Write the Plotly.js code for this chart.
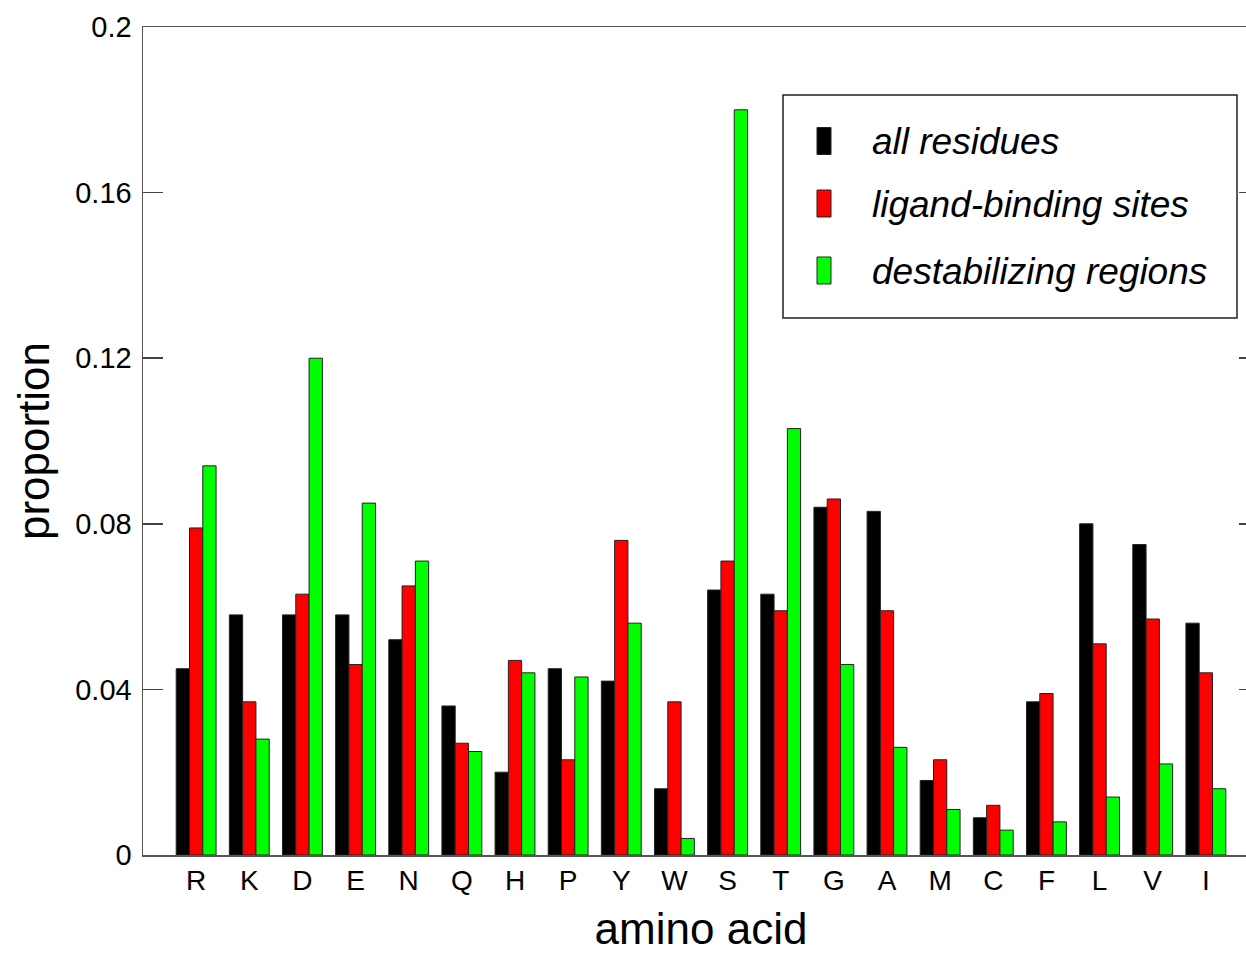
<!DOCTYPE html>
<html>
<head>
<meta charset="utf-8">
<script src="https://cdn.plot.ly/plotly-3.0.1.min.js"></script>
<style>
  html, body { margin: 0; padding: 0; background: #fff; overflow: hidden; width: 1246px; height: 953px; }
  #chart { width: 1259px; height: 953px; }
</style>
</head>
<body>
<div id="chart"></div>
<script>
const aminoAcids = ["R","K","D","E","N","Q","H","P","Y","W","S","T","G","A","M","C","F","L","V","I"];
const allResidues = [0.045,0.058,0.058,0.058,0.052,0.036,0.020,0.045,0.042,0.016,0.064,0.063,0.084,0.083,0.018,0.009,0.037,0.080,0.075,0.056];
const ligandBindingSites = [0.079,0.037,0.063,0.046,0.065,0.027,0.047,0.023,0.076,0.037,0.071,0.059,0.086,0.059,0.023,0.012,0.039,0.051,0.057,0.044];
const destabilizingRegions = [0.094,0.028,0.120,0.085,0.071,0.025,0.044,0.043,0.056,0.004,0.180,0.103,0.046,0.026,0.011,0.006,0.008,0.014,0.022,0.016];
const seriesNames = ["all residues","ligand-binding sites","destabilizing regions"];
const seriesColors = ["#000000","#ff0000","#00ff00"];
const yTickVals = [0, 0.04, 0.08, 0.12, 0.16, 0.2];
const yTickText = ["0", "0.04", "0.08", "0.12", "0.16", "0.2"];

const FONT = '"Liberation Sans", Arial, Helvetica, sans-serif';
const seriesValues = [allResidues, ligandBindingSites, destabilizingRegions];

const traces = seriesValues.map((vals, i) => ({
  type: 'bar',
  name: seriesNames[i],
  x: aminoAcids,
  y: vals,
  marker: { color: seriesColors[i], line: { color: '#222222', width: 1 } },
  showlegend: false,
  hoverinfo: 'x+y+name'
}));

// custom legend (tall narrow swatches like the original)
const W = 1259;
const L = 143, R = W, T = 27, B = 855;
const px = v => (v - L) / (R - L);
const py = v => (B - v) / (B - T);
const shapes = [{
  type: 'rect', xref: 'paper', yref: 'paper',
  x0: px(783), x1: px(1237), y0: py(318), y1: py(95),
  line: { color: '#222', width: 1.5 }, fillcolor: 'rgba(255,255,255,1)', layer: 'above'
}];
const annotations = [];
const rowCenters = [141, 203.5, 270.5];
seriesNames.forEach((name, i) => {
  const c = rowCenters[i];
  shapes.push({
    type: 'rect', xref: 'paper', yref: 'paper',
    x0: px(817), x1: px(831), y0: py(c + 13.5), y1: py(c - 13.5),
    fillcolor: seriesColors[i], line: { color: '#222', width: 1 }, layer: 'above'
  });
  annotations.push({
    xref: 'paper', yref: 'paper', x: px(870), y: py(c + 1), xanchor: 'left', yanchor: 'middle',
    text: '<i>' + name + '</i>', showarrow: false,
    font: { family: FONT, size: 37, color: '#000' }
  });
});

const layout = {
  width: W, height: 953,
  margin: { l: 143, r: 0, t: 27, b: 98, pad: 0 },
  paper_bgcolor: '#fff', plot_bgcolor: '#fff',
  font: { family: FONT, color: '#000' },
  barmode: 'group', bargap: 0.25, bargroupgap: 0,
  showlegend: false,
  xaxis: {
    type: 'category', range: [-1, 20], autorange: false,
    showline: true, mirror: true, linecolor: '#555', linewidth: 1.5,
    ticks: '', showgrid: false, zeroline: false,
    tickfont: { family: FONT, size: 28, color: '#000' },
    title: { text: 'amino acid', font: { family: FONT, size: 44, color: '#000' }, standoff: 18 }
  },
  yaxis: {
    range: [0, 0.2], autorange: false,
    tickvals: yTickVals, ticktext: yTickText,
    showline: true, mirror: 'ticks', linecolor: '#555', linewidth: 1.5,
    ticks: 'inside', ticklen: 20, tickcolor: '#444', tickwidth: 1.5,
    ticklabelstandoff: 4,
    showgrid: false, zeroline: false,
    tickfont: { family: FONT, size: 29, color: '#000' },
    title: { text: 'proportion', font: { family: FONT, size: 44, color: '#000' }, standoff: 12 }
  },
  shapes: shapes,
  annotations: annotations
};

Plotly.newPlot('chart', traces, layout, { displayModeBar: false, staticPlot: true });
</script>
</body>
</html>
